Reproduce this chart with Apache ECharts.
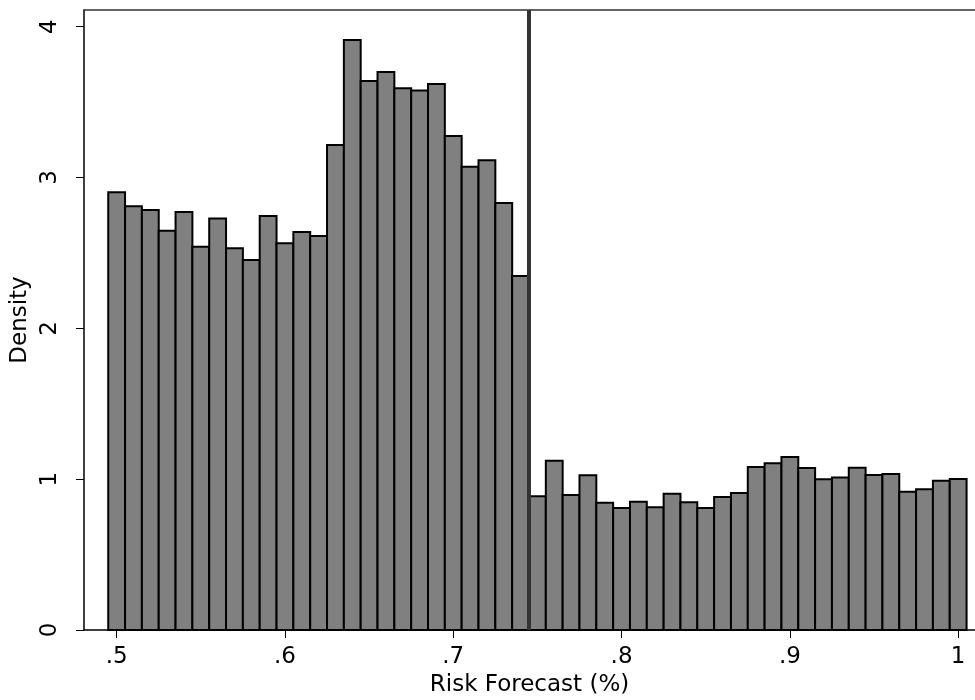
<!DOCTYPE html>
<html>
<head>
<meta charset="utf-8">
<script src="https://cdn.jsdelivr.net/npm/echarts@6/dist/echarts.min.js"></script>
<style>html,body{margin:0;padding:0;background:#fff}#c{width:975px;height:700px}</style>
</head>
<body>
<div id="c"></div>
<script>
// Histogram bin centers (Risk Forecast, %)
const binCenters = [0.50,0.51,0.52,0.53,0.54,0.55,0.56,0.57,0.58,0.59,
  0.60,0.61,0.62,0.63,0.64,0.65,0.66,0.67,0.68,0.69,
  0.70,0.71,0.72,0.73,0.74,0.75,0.76,0.77,0.78,0.79,
  0.80,0.81,0.82,0.83,0.84,0.85,0.86,0.87,0.88,0.89,
  0.90,0.91,0.92,0.93,0.94,0.95,0.96,0.97,0.98,0.99,1.00];
const binWidth = 0.01;
// Density per bin
const density = [2.902,2.810,2.785,2.648,2.772,2.542,2.728,2.531,2.454,2.745,
  2.564,2.639,2.613,3.216,3.912,3.641,3.700,3.592,3.577,3.621,
  3.276,3.072,3.115,2.832,2.347,0.887,1.123,0.895,1.026,0.844,
  0.809,0.851,0.814,0.904,0.847,0.809,0.882,0.908,1.081,1.105,
  1.147,1.074,0.999,1.012,1.076,1.028,1.034,0.917,0.933,0.990,1.001];
const cutoff = 0.745;
const xTicks = [0.5,0.6,0.7,0.8,0.9,1.0];
const yTicks = [0,1,2,3,4];
const xRange = [0.4806, 1.0100];
const yRange = [0, 4.111];

const FONT = '"DejaVu Sans", "Liberation Sans", Arial, sans-serif';
const FS = 23;
const fmtX = v => { const s = (+v).toFixed(1); return s === '1.0' ? '1' : s.replace(/^0/, ''); };

const chart = echarts.init(document.getElementById('c'), null, {renderer: 'canvas'});
chart.setOption({
  animation: false,
  backgroundColor: '#fff',
  grid: {left: 84, right: 0, top: 10, bottom: 70, containLabel: false, outerBoundsMode: 'none'},
  xAxis: [{
    type: 'value', min: xRange[0], max: xRange[1], position: 'bottom',
    name: 'Risk Forecast (%)', nameLocation: 'middle', nameGap: 42,
    nameTextStyle: {fontFamily: FONT, fontSize: FS, color: '#000'},
    axisLine: {show: true, lineStyle: {color: '#000', width: 1.5}},
    axisTick: {show: true, length: 8, lineStyle: {color: '#000', width: 1}, customValues: xTicks},
    axisLabel: {show: true, margin: 16, fontFamily: FONT, fontSize: FS, color: '#000',
      formatter: fmtX, customValues: xTicks},
    splitLine: {show: false}
  }, {
    type: 'value', min: xRange[0], max: xRange[1], position: 'top',
    axisLine: {show: true, lineStyle: {color: '#333', width: 1.5}},
    axisTick: {show: false}, axisLabel: {show: false}, splitLine: {show: false}
  }],
  yAxis: {
    type: 'value', min: yRange[0], max: yRange[1],
    name: 'Density', nameLocation: 'middle', nameGap: 51, nameRotate: 90,
    nameTextStyle: {fontFamily: FONT, fontSize: FS, color: '#000'},
    axisLine: {show: true, lineStyle: {color: '#000', width: 1.5}},
    axisTick: {show: true, length: 8, lineStyle: {color: '#000', width: 1}, customValues: yTicks},
    axisLabel: {show: true, rotate: 90, margin: 22, fontFamily: FONT, fontSize: FS, color: '#000',
      customValues: yTicks},
    splitLine: {show: false}
  },
  series: [{
    type: 'custom',
    xAxisIndex: 0,
    data: binCenters.map((c, i) => [c, density[i]]),
    renderItem: function (params, api) {
      const c = api.value(0), v = api.value(1);
      const p0 = api.coord([c - binWidth / 2, v]);
      const p1 = api.coord([c + binWidth / 2, 0]);
      return {
        type: 'rect',
        shape: {x: p0[0], y: p0[1], width: p1[0] - p0[0], height: p1[1] - p0[1]},
        style: {fill: '#808080', stroke: '#000', lineWidth: 2}
      };
    },
    z: 2
  }, {
    type: 'line',
    xAxisIndex: 0,
    data: [[cutoff, yRange[0]], [cutoff, yRange[1]]],
    symbol: 'none',
    silent: true,
    lineStyle: {color: '#333', width: 4},
    z: 3
  }]
});
</script>
</body>
</html>
